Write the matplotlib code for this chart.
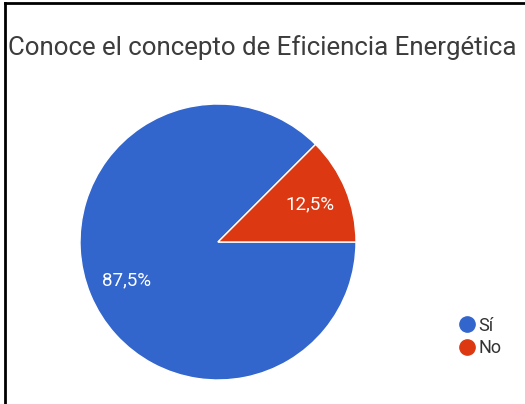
import matplotlib.pyplot as plt
from matplotlib.lines import Line2D

plt.rcParams['font.family'] = ['Roboto', 'DejaVu Sans']

# survey answers
labels = ['Sí', 'No']
values = [87.5, 12.5]
colors = ['#3366cc', '#dc3912']
title = 'Conoce el concepto de Eficiencia Energética'

W, H = 525, 404
fig = plt.figure(figsize=(W / 100, H / 100), dpi=100)
fig.patch.set_facecolor('white')

# pie area: centre (218, 242), radius 138 px
cx, cy, r = 218, 242, 138
ax = fig.add_axes([(cx - r) / W, (H - cy - r) / H, 2 * r / W, 2 * r / H])


def fmt(p):
    return f'{p:.1f}%'.replace('.', ',')


wedges, texts, autotexts = ax.pie(
    values, colors=colors, startangle=45, counterclock=True,
    autopct=fmt, pctdistance=0.72,
    wedgeprops=dict(edgecolor='white', linewidth=1),
    textprops=dict(color='white', fontsize=13.5))
ax.set_xlim(-1, 1)
ax.set_ylim(-1, 1)
ax.set_aspect('equal')
ax.axis('off')

fig.text(8 / W, 1 - 48 / H, title, fontsize=18.6, color='#3c3c3c',
         ha='left', va='center')

handles = [Line2D([], [], marker='o', linestyle='none', markersize=11,
                  markerfacecolor=c, markeredgecolor=c) for c in colors]
fig.legend(handles, labels, loc='center left',
           bbox_to_anchor=(447 / W, 1 - 337 / H), frameon=False,
           fontsize=13, handletextpad=0.05, labelspacing=0.25,
           handlelength=1.2, labelcolor='#333333', borderpad=0)

# frame lines on left and top
fig.add_artist(Line2D([5 / W, 5 / W], [0, 1 - 3 / H], color='black', lw=2))
fig.add_artist(Line2D([5 / W, 1], [1 - 3 / H, 1 - 3 / H], color='black', lw=2))

fig.savefig('out.png', dpi=100)
